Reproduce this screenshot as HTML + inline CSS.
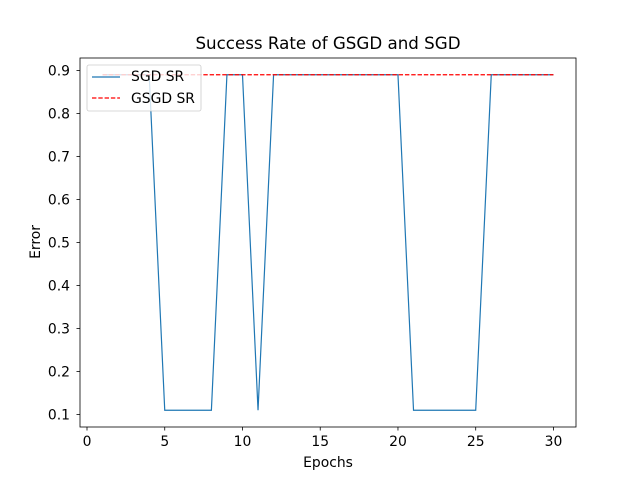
<!DOCTYPE html>
<html><head><meta charset="utf-8"><style>
body{margin:0;background:#fff;}
svg{display:block;font-family:"DejaVu Sans","Liberation Sans",sans-serif;}
</style></head><body>
<svg id="c" width="640" height="480" viewBox="0 0 640 480">
<rect width="640" height="480" fill="#fff"/>
<text x="328" y="49" font-size="16.7" text-anchor="middle">Success Rate of GSGD and SGD</text>
<g id="plot"></g>
<text x="328" y="467" font-size="13.9" text-anchor="middle">Epochs</text>
<text x="0" y="0" font-size="13.9" text-anchor="middle" transform="translate(40,242) rotate(-90)">Error</text>
</svg>
<script>
const epochs=[1,2,3,4,5,6,7,8,9,10,11,12,13,14,15,16,17,18,19,20,21,22,23,24,25,26,27,28,29,30];
const sgd=[0.89,0.89,0.89,0.89,0.11,0.11,0.11,0.11,0.89,0.89,0.11,0.89,0.89,0.89,0.89,0.89,0.89,0.89,0.89,0.89,0.11,0.11,0.11,0.11,0.11,0.89,0.89,0.89,0.89,0.89];
const gsgd=[0.89,0.89,0.89,0.89,0.89,0.89,0.89,0.89,0.89,0.89,0.89,0.89,0.89,0.89,0.89,0.89,0.89,0.89,0.89,0.89,0.89,0.89,0.89,0.89,0.89,0.89,0.89,0.89,0.89,0.89];
const xTicks=[0,5,10,15,20,25,30];
const yTicks=[0.1,0.2,0.3,0.4,0.5,0.6,0.7,0.8,0.9];
const L=80,R=576,T=58,B=427;
const x0=-0.45,x1=31.45,y0=0.071,y1=0.929;
const sx=v=>L+(v-x0)/(x1-x0)*(R-L);
const sy=v=>B-(v-y0)/(y1-y0)*(B-T);
const NS="http://www.w3.org/2000/svg";
const g=document.getElementById('plot');
function mk(t,a){const e=document.createElementNS(NS,t);for(const k in a)e.setAttribute(k,a[k]);g.appendChild(e);return e;}
let e=mk('polyline',{points:sgd.map((v,i)=>sx(epochs[i])+','+sy(v)).join(' '),fill:'none',stroke:'#1f77b4','stroke-width':1.2});


e=mk('polyline',{points:gsgd.map((v,i)=>sx(epochs[i])+','+sy(v)).join(' '),fill:'none',stroke:'#ff0000','stroke-width':1.2,'stroke-dasharray':'4.4,1.9'});


e=mk('rect',{x:L,y:T,width:R-L,height:B-T,fill:'none',stroke:'#000','stroke-width':0.8});


xTicks.forEach(v=>{
 let t=mk('line',{x1:sx(v),x2:sx(v),y1:B,y2:B+3.5,stroke:'#000','stroke-width':0.8});
 
 
 let l=mk('text',{x:sx(v),y:B+19,'font-size':13.9,'text-anchor':'middle'});l.textContent=v;
 
 
});
yTicks.forEach(v=>{
 let t=mk('line',{x1:L-3.5,x2:L,y1:sy(v),y2:sy(v),stroke:'#000','stroke-width':0.8});
 
 
 let l=mk('text',{x:L-10,y:sy(v)+5,'font-size':13.9,'text-anchor':'end'});l.textContent=v.toFixed(1);
 
 
});
e=mk('rect',{x:87,y:65,width:114,height:46,rx:2,fill:'#fff','fill-opacity':0.8,stroke:'#ccc','stroke-width':0.8});


e=mk('line',{x1:92,x2:120,y1:77,y2:77,stroke:'#1f77b4','stroke-width':1.2});


e=mk('text',{x:131,y:81,'font-size':13.9});e.textContent='SGD SR';


e=mk('line',{x1:92,x2:120,y1:98,y2:98,stroke:'#ff0000','stroke-width':1.2,'stroke-dasharray':'4.4,1.9'});


e=mk('text',{x:131,y:103,'font-size':13.9});e.textContent='GSGD SR';


</script>
</body></html>
